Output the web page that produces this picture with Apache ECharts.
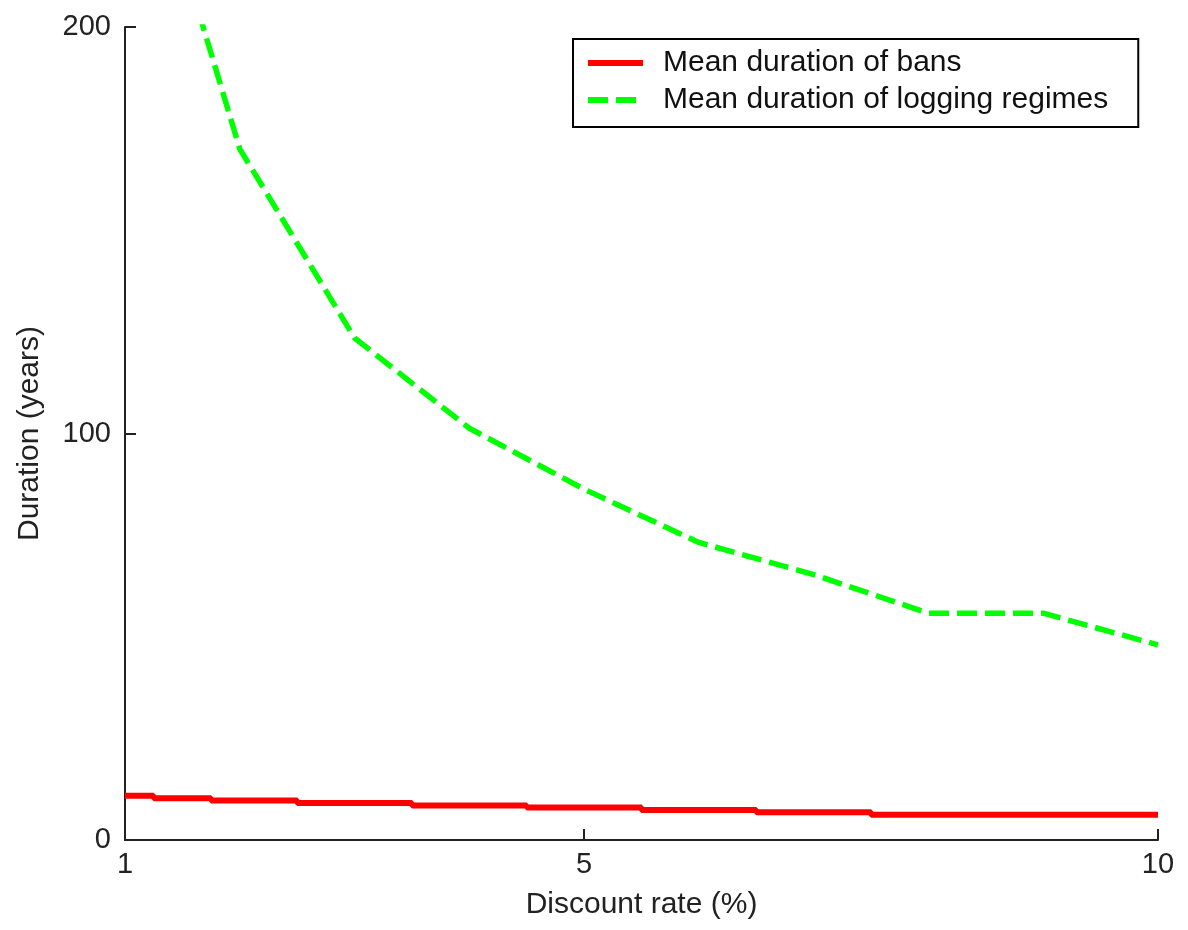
<!DOCTYPE html>
<html>
<head>
<meta charset="utf-8">
<script src="https://cdn.jsdelivr.net/npm/echarts@6/dist/echarts.min.js"></script>
<style>
html, body { margin: 0; padding: 0; background: #fff; }
#chart { width: 1188px; height: 930px; }
</style>
</head>
<body>
<div id="chart"></div>
<script>
// Discount rate (%) sample points
const rates = [1, 1.5, 2, 3, 4, 5, 6, 7, 8, 9, 10];
// Mean duration of bans (years)
const bans = [10.9, 10.3, 9.7, 9.1, 8.5, 8.0, 7.4, 6.8, 6.2, 6.2, 6.2];
// Mean duration of logging regimes (years); value at 1 not shown (off-scale)
const logging = [null, 217, 170, 123.5, 101.3, 86.3, 73.2, 65.3, 55.8, 55.8, 48];
const xTicks = [1, 5, 10];
const seriesNames = ['Mean duration of bans', 'Mean duration of logging regimes'];

const pair = (xs, ys) => xs.map((x, i) => [x, ys[i]]).filter(p => p[1] !== null);

const font = "'Liberation Sans', Arial, sans-serif";
const chart = echarts.init(document.getElementById('chart'), null, { renderer: 'canvas' });
chart.setOption({
  animation: false,
  backgroundColor: '#ffffff',
  textStyle: { fontFamily: font, color: '#222' },
  grid: { left: 125, right: 30, top: 27, bottom: 90, containLabel: false, outerBoundsMode: 'none' },
  legend: {
    orient: 'vertical',
    left: 573,
    top: 39,
    padding: [9, 30, 12, 12],
    itemWidth: 55,
    itemHeight: 30,
    itemGap: 7,
    borderColor: '#000',
    borderWidth: 2,
    backgroundColor: '#fff',
    selectedMode: false,
    itemStyle: { opacity: 0 },
    data: [
      { name: seriesNames[0], itemStyle: { opacity: 0 }, lineStyle: { color: '#ff0000', width: 6, type: 'solid' } },
      { name: seriesNames[1], itemStyle: { opacity: 0 }, lineStyle: { color: '#00ff00', width: 6, type: [20, 8] } }
    ],
    textStyle: { fontSize: 30, color: '#111', fontFamily: font, padding: [0, 0, 0, 15] }
  },
  xAxis: {
    type: 'value',
    min: 1,
    max: 10,
    name: 'Discount rate (%)',
    nameLocation: 'middle',
    nameGap: 50,
    nameTextStyle: { fontSize: 30, color: '#222', fontFamily: font },
    axisLine: { show: true, lineStyle: { color: '#222', width: 2 } },
    axisTick: { show: true, inside: true, length: 11, customValues: xTicks, lineStyle: { color: '#222', width: 2 } },
    axisLabel: { customValues: xTicks, fontSize: 29, color: '#222', margin: 10, fontFamily: font },
    splitLine: { show: false }
  },
  yAxis: {
    type: 'value',
    min: 0,
    max: 200,
    interval: 100,
    name: 'Duration (years)',
    nameLocation: 'middle',
    nameGap: 80,
    nameTextStyle: { fontSize: 30, color: '#222', fontFamily: font },
    axisLine: { show: true, lineStyle: { color: '#222', width: 2 } },
    axisTick: { show: true, inside: true, length: 11, lineStyle: { color: '#222', width: 2 } },
    axisLabel: { fontSize: 29, color: '#222', margin: 14, fontFamily: font },
    splitLine: { show: false }
  },
  series: [
    {
      name: seriesNames[0],
      type: 'line',
      step: 'middle',
      data: pair(rates, bans),
      showSymbol: false,
      symbol: 'none',
      clip: true,
      lineStyle: { color: '#ff0000', width: 6 },
      itemStyle: { color: '#ff0000' }
    },
    {
      name: seriesNames[1],
      type: 'line',
      data: pair(rates, logging),
      showSymbol: false,
      symbol: 'none',
      clip: true,
      lineStyle: { color: '#00ff00', width: 5.5, type: [20, 8] },
      itemStyle: { color: '#00ff00' }
    }
  ]
});
</script>
</body>
</html>
